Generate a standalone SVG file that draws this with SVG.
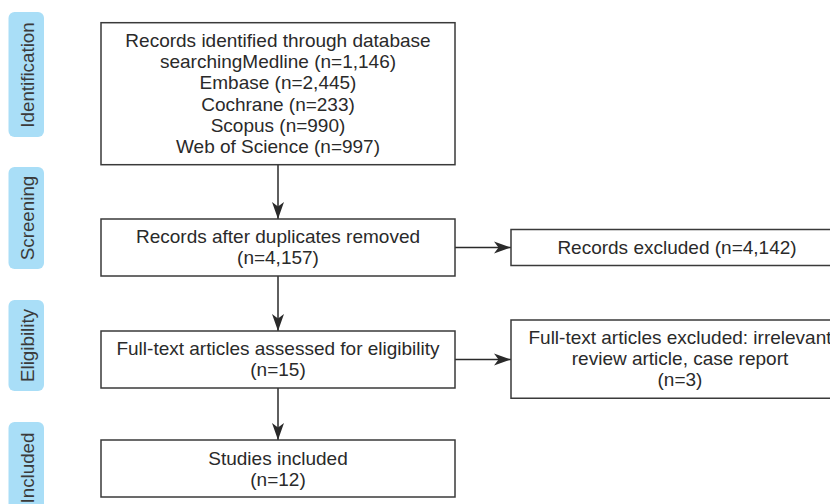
<svg xmlns="http://www.w3.org/2000/svg" width="830" height="504" viewBox="0 0 830 504">
<defs>
<style>
.box{fill:#ffffff;stroke:#3a3a3a;stroke-width:1.5}
.pill{fill:#a9def7}
.t{font-family:"Liberation Sans",Arial,Helvetica,sans-serif;font-size:19px;fill:#2a2a2a;text-anchor:middle}
.pt{font-family:"Liberation Sans",Arial,Helvetica,sans-serif;font-size:18.8px;fill:#3a3a3a;text-anchor:middle}
.c{stroke:#2a2a2a;stroke-width:1.5;fill:none;marker-end:url(#ah)}
</style>
<marker id="ah" markerUnits="userSpaceOnUse" markerWidth="18" markerHeight="13" refX="17" refY="6.5" orient="auto">
<path d="M0,0.5 L17,6.5 L0,12.5 L4.5,6.5 Z" fill="#2a2a2a"/>
</marker>
</defs>
<rect width="830" height="504" fill="#ffffff"/>

<g id="stage-identification">
<rect class="pill" x="8.5" y="12" width="35.5" height="125" rx="6"/>
<text class="pt" transform="translate(33.5,75) rotate(-90)">Identification</text>
</g>
<g id="stage-screening">
<rect class="pill" x="8.5" y="167" width="35.5" height="102" rx="6"/>
<text class="pt" transform="translate(33.5,218) rotate(-90)">Screening</text>
</g>
<g id="stage-eligibility">
<rect class="pill" x="8.5" y="300" width="35.5" height="91" rx="6"/>
<text class="pt" transform="translate(33.5,345.5) rotate(-90)">Eligibility</text>
</g>
<g id="stage-included">
<rect class="pill" x="8.5" y="422" width="35.5" height="92" rx="6"/>
<text class="pt" transform="translate(33.5,468) rotate(-90)">Included</text>
</g>

<g id="connectors">
<line class="c" x1="278" y1="164.7" x2="278" y2="219"/>
<line class="c" x1="278" y1="276" x2="278" y2="331"/>
<line class="c" x1="278" y1="388" x2="278" y2="440"/>
<line class="c" x1="455" y1="247.5" x2="511" y2="247.5"/>
<line class="c" x1="455" y1="359.5" x2="511" y2="359.5"/>
</g>

<g id="records-identified">
<rect class="box" x="101" y="22.7" width="354" height="142"/>
<text class="t" x="278" y="46.7">Records identified through database</text>
<text class="t" x="278" y="68">searchingMedline (n=1,146)</text>
<text class="t" x="278" y="89.3">Embase (n=2,445)</text>
<text class="t" x="278" y="110.6">Cochrane (n=233)</text>
<text class="t" x="278" y="131.9">Scopus (n=990)</text>
<text class="t" x="278" y="153.2">Web of Science (n=997)</text>
</g>

<g id="records-after-duplicates">
<rect class="box" x="101" y="219" width="354" height="57"/>
<text class="t" x="278" y="243.3">Records after duplicates removed</text>
<text class="t" x="278" y="264">(n=4,157)</text>
</g>

<g id="records-excluded">
<path class="box" d="M831,229.5 H511 V265.5 H831"/>
<text class="t" x="677" y="254.3">Records excluded (n=4,142)</text>
</g>

<g id="fulltext-assessed">
<rect class="box" x="101" y="331" width="354" height="57"/>
<text class="t" x="278" y="355">Full-text articles assessed for eligibility</text>
<text class="t" x="278" y="375.7">(n=15)</text>
</g>

<g id="fulltext-excluded">
<path class="box" d="M831,320 H511 V398.3 H831"/>
<text class="t" x="680" y="343.7">Full-text articles excluded: irrelevant</text>
<text class="t" x="680" y="364.7">review article, case report</text>
<text class="t" x="680" y="385.7">(n=3)</text>
</g>

<g id="studies-included">
<rect class="box" x="101" y="440" width="354" height="57"/>
<text class="t" x="278" y="465">Studies included</text>
<text class="t" x="278" y="485.7">(n=12)</text>
</g>
</svg>
